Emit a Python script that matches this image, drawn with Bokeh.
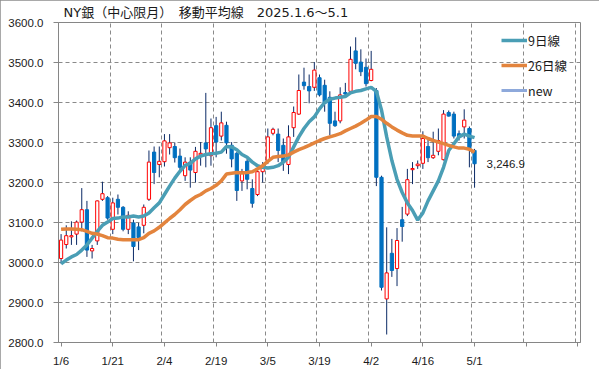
from bokeh.plotting import figure
from bokeh.models import (Range1d, FixedTicker, Legend, LegendItem, Label,
                          PrintfTickFormatter, ColumnDataSource)
from bokeh.embed import file_html
from bokeh.resources import INLINE

# ---------------- data ----------------
tick_labels = ["1/6", "1/21", "2/4", "2/19", "3/5", "3/19", "4/2", "4/16", "5/1"]
tick_index = [0, 10, 20, 30, 40, 50, 60, 70, 80]

opens = [3010, 3045, 3064, 3071, 3101, 3132, 3029, 3054, 3158, 3162,
         3083, 3158, 3138, 3083, 3099, 3089, 3093, 3158, 3276, 3245,
         3252, 3287, 3290, 3266, 3217, 3251, 3225, 3269, 3299, 3267,
         3342, 3316, 3343, 3293, 3273, 3204, 3253, 3185, 3170, 3227,
         3255, 3323, 3321, 3293, 3245, 3337, 3371, 3451, 3440, 3438,
         3462, 3443, 3413, 3354, 3354, 3425, 3428, 3529, 3501, 3488,
         3455, 3430, 3213, 2909, 3023, 2985, 3107, 3121, 3232, 3242,
         3248, 3290, 3262, 3278, 3257, 3375, 3371, 3322, 3339, 3335,
         3280]
highs = [3071, 3093, 3103, 3105, 3186, 3154, 3044, 3155, 3202, 3166,
         3162, 3170, 3141, 3128, 3107, 3099, 3145, 3280, 3290, 3290,
         3321, 3321, 3300, 3285, 3263, 3263, 3289, 3301, 3424, 3360,
         3364, 3377, 3352, 3301, 3276, 3234, 3259, 3208, 3238, 3251,
         3335, 3337, 3335, 3310, 3343, 3390, 3470, 3487, 3470, 3501,
         3470, 3457, 3428, 3377, 3438, 3449, 3540, 3563, 3533, 3510,
         3529, 3436, 3217, 3088, 3059, 3086, 3139, 3234, 3251, 3255,
         3328, 3310, 3327, 3335, 3381, 3380, 3377, 3330, 3383, 3340,
         3284]
lows = [2997, 3035, 3044, 3044, 3078, 3014, 3010, 3044, 3154, 3107,
        3071, 3120, 3078, 3071, 3003, 3031, 3073, 3154, 3196, 3213,
        3240, 3270, 3250, 3225, 3204, 3187, 3200, 3242, 3238, 3242,
        3263, 3305, 3272, 3238, 3154, 3179, 3183, 3137, 3166, 3200,
        3246, 3318, 3251, 3229, 3221, 3314, 3369, 3432, 3398, 3429,
        3415, 3377, 3318, 3339, 3348, 3415, 3424, 3483, 3466, 3440,
        3453, 3191, 2930, 2820, 2964, 2941, 3052, 3116, 3196, 3234,
        3234, 3251, 3259, 3268, 3255, 3365, 3310, 3305, 3310, 3238,
        3187]
closes = [3056, 3067, 3067, 3101, 3132, 3031, 3035, 3154, 3172, 3111,
          3149, 3138, 3083, 3118, 3040, 3062, 3138, 3251, 3225, 3253,
          3304, 3299, 3262, 3238, 3251, 3231, 3278, 3273, 3284, 3337,
          3301, 3349, 3299, 3259, 3180, 3227, 3208, 3148, 3227, 3238,
          3314, 3333, 3280, 3251, 3314, 3375, 3430, 3442, 3429, 3481,
          3419, 3398, 3348, 3342, 3419, 3421, 3508, 3498, 3477, 3447,
          3483, 3213, 2938, 2974, 2980, 3055, 3090, 3207, 3235, 3246,
          3310, 3262, 3268, 3305, 3371, 3366, 3316, 3314, 3356, 3284,
          3246.9]
ma9 = [2997, 3006, 3014, 3020, 3031, 3044, 3061, 3078, 3093, 3101,
       3110, 3111, 3114, 3114, 3116, 3114, 3116, 3124, 3137, 3149,
       3170, 3191, 3211, 3228, 3243, 3248, 3259, 3266, 3270, 3272,
       3273, 3276, 3290, 3289, 3282, 3270, 3263, 3251, 3242, 3238,
       3236, 3238, 3242, 3251, 3263, 3289, 3314, 3335, 3352, 3364,
       3384, 3400, 3408, 3411, 3413, 3415, 3424, 3428, 3430, 3434,
       3438, 3428, 3381, 3314, 3255, 3208, 3175, 3149, 3130, 3106,
       3124, 3154, 3179, 3204, 3238, 3280, 3297, 3314, 3321, 3316,
       3312]
ma26 = [3083, 3084, 3084, 3083, 3082, 3078, 3073, 3071, 3067, 3062,
        3061, 3058, 3057, 3057, 3057, 3057, 3062, 3073, 3079, 3088,
        3099, 3110, 3120, 3132, 3145, 3155, 3164, 3170, 3179, 3185,
        3193, 3204, 3221, 3223, 3225, 3224, 3225, 3227, 3234, 3242,
        3253, 3263, 3265, 3266, 3269, 3276, 3282, 3287, 3293, 3299,
        3305, 3310, 3314, 3318, 3322, 3329, 3335, 3341, 3348, 3356,
        3365, 3365, 3358, 3348, 3339, 3331, 3324, 3318, 3316, 3316,
        3316, 3310, 3305, 3301, 3297, 3293, 3289, 3286, 3286, 3283,
        3276]
new_index = 80
new_value = 3246.9
n_slots = 101  # category slots on the axis

# ---------------- styling ----------------
C_UP = "#FF0000"
C_DOWN = "#0070C0"
C_WICK = "#0B2A66"
C_MA9 = "#4A9EB5"
C_MA26 = "#E3843D"
C_NEW = "#8EA9DB"
C_AXIS = "#868686"
NUM_FONT = "Liberation Sans"
JP_FONT = "Noto Sans CJK JP"

idx = list(range(len(closes)))
up_i = [i for i in idx if closes[i] >= opens[i]]
dn_i = [i for i in idx if closes[i] < opens[i]]

src_w = ColumnDataSource(dict(x=idx, lo=lows, hi=highs))
src_up = ColumnDataSource(dict(x=up_i, top=[closes[i] for i in up_i],
                               bottom=[opens[i] for i in up_i]))
src_dn = ColumnDataSource(dict(x=dn_i, top=[opens[i] for i in dn_i],
                               bottom=[closes[i] for i in dn_i]))

p = figure(width=599, height=369, output_backend="svg", toolbar_location=None,
           x_range=Range1d(-0.5, n_slots - 0.5), y_range=Range1d(2800, 3600),
           min_border_left=58, min_border_right=19, min_border_top=0,
           min_border_bottom=26)
p.background_fill_color = "white"
p.border_fill_color = "white"
p.outline_line_color = C_AXIS
p.outline_line_width = 1
p.styles = {"outline": "1px solid #8c8c8c", "outline-offset": "-1px"}

p.title.text = "NY銀（中心限月）　移動平均線　2025.1.6～5.1"
p.title.text_font = "DejaVu Sans, Noto Sans CJK JP"
p.title.text_font_size = "13px"
p.title.text_font_style = "normal"
p.title.text_color = "#1a1a1a"
p.title.align = "left"
p.title.offset = 5
p.title.standoff = 5

# axes
p.xaxis.ticker = FixedTicker(ticks=list(range(0, n_slots, 10)))
overrides = {t: "" for t in range(0, n_slots, 10)}
overrides.update({t: l for t, l in zip(tick_index, tick_labels)})
p.xaxis.major_label_overrides = overrides
p.yaxis.ticker = FixedTicker(ticks=list(range(2800, 3601, 100)))
p.yaxis.formatter = PrintfTickFormatter(format="%.1f")
for ax in (p.xaxis[0], p.yaxis[0]):
    ax.axis_line_color = C_AXIS
    ax.major_tick_line_color = C_AXIS
    ax.minor_tick_line_color = None
    ax.major_tick_in = 0
    ax.major_label_text_font = NUM_FONT
    ax.major_label_text_font_size = "11.5px"
    ax.major_label_text_color = "#1a1a1a"
p.xaxis.major_tick_out = 4
p.xaxis.major_label_standoff = 8
p.yaxis.major_tick_out = 5
p.yaxis.major_label_standoff = 10

p.xgrid.ticker = FixedTicker(ticks=[k + 9.5 for k in range(0, n_slots - 1, 10)])
p.ygrid.ticker = FixedTicker(ticks=list(range(2900, 3600, 100)))
for g in (p.xgrid[0], p.ygrid[0]):
    g.grid_line_color = "#8a8a8a"
    g.grid_line_dash = "4 3"
    g.grid_line_width = 1

# candles
p.segment(x0="x", y0="lo", x1="x", y1="hi", source=src_w, line_color=C_WICK, line_width=1)
p.vbar(x="x", top="top", bottom="bottom", width=0.62, source=src_dn,
       fill_color=C_DOWN, line_color=C_DOWN, line_width=1)
p.vbar(x="x", top="top", bottom="bottom", width=0.62, source=src_up,
       fill_color="white", line_color=C_UP, line_width=1)

# moving averages
r9 = p.line(idx, ma9, line_color=C_MA9, line_width=3.5)
r26 = p.line(idx, ma26, line_color=C_MA26, line_width=3.5)
rnew = p.line([new_index], [new_value], line_color=C_NEW, line_width=3)

p.add_layout(Label(x=new_index, y=new_value, text=f"{new_value:,.1f}", x_offset=12,
                   text_baseline="middle", text_font=NUM_FONT, text_font_size="11.5px",
                   text_color="#1a1a1a"))

legend = Legend(items=[LegendItem(label="9日線", renderers=[r9]),
                       LegendItem(label="26日線", renderers=[r26]),
                       LegendItem(label="new", renderers=[rnew])],
                location="top_right")
legend.background_fill_alpha = 0
legend.border_line_color = None
legend.label_text_font = JP_FONT
legend.label_text_font_size = "12.5px"
legend.label_text_color = "#1a1a1a"
legend.glyph_width = 26
legend.glyph_height = 20
legend.spacing = 5
legend.label_standoff = 1
legend.label_width = 44
legend.padding = 7
legend.margin = 8
legend.label_height = 20
p.add_layout(legend)

open("out.html", "w").write(file_html(p, INLINE))
